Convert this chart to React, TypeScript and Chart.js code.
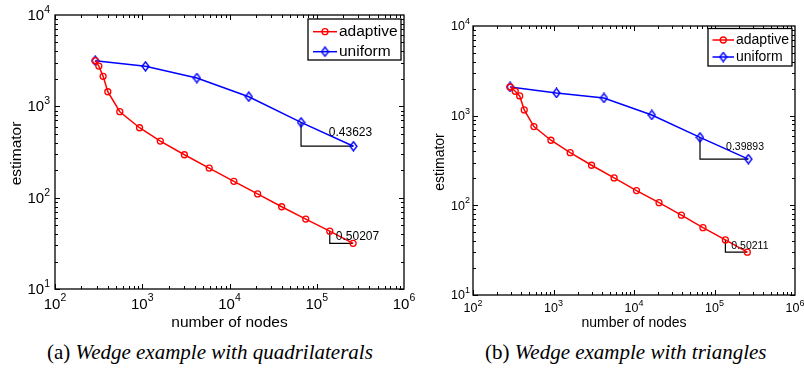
import React, { useEffect, useRef } from "react";
import { Chart, registerables } from "chart.js";
Chart.register(...registerables);

// ---------- data ----------
const uniformNodes = [289, 1089, 4225, 16641, 66049, 263169];

const quadAdaptiveNodes = [289, 318, 356, 403, 553, 931, 1610, 3040, 5850, 11220, 21000, 39600, 74800, 141000, 261000];
const quadAdaptiveEst = [3160, 2762, 2130, 1445, 873, 583, 417, 295, 211, 151, 110, 79.5, 58.3, 43.0, 31.6];
const quadUniformEst = [3160, 2742, 2042, 1274, 668, 366];

const triAdaptiveNodes = [289, 335, 380, 433, 571, 929, 1611, 2970, 5660, 10740, 20470, 38800, 71900, 136500, 255800];
const triAdaptiveEst = [2089, 1871, 1659, 1158, 755, 532, 387, 280, 202, 146, 107, 77.6, 56.4, 41.1, 30.0];
const triUniformEst = [2089, 1791, 1575, 1018, 572, 328];

const xTickExponents = [2, 3, 4, 5, 6];
const yTickExponents = [1, 2, 3, 4];
const seriesLabels = ["adaptive", "uniform"];
const quadSlopeLabels = ["0.43623", "0.50207"];
const triSlopeLabels = ["0.39893", "0.50211"];
const xTitle = "number of nodes";
const yTitle = "estimator";

const SANS = '"Liberation Sans", Arial, Helvetica, sans-serif';

type Panel = {
  canvasLeft: number; width: number; height: number;
  area: { left: number; right: number; top: number; bottom: number };
  adaptiveNodes: number[]; adaptiveEst: number[]; uniformEst: number[];
  slopeLabels: string[];
  mainFont: string; supFont: string; supDy: number;
  titleFont: string; legendFont: string; noteFont: string;
  xTickDy: number; yTickDx: number; xTitleDy: number; yTitleDx: number;
  legend: { dxLeft: number; dxRight: number; dyTop: number; dyBottom: number; row1: number; row2: number; s0: number; s1: number; tx: number };
  notes: { fx: number; fy: number }[];
};

const panels: Panel[] = [
  {
    canvasLeft: 0, width: 415, height: 340,
    area: { left: 55, right: 404, top: 15, bottom: 289 },
    adaptiveNodes: quadAdaptiveNodes, adaptiveEst: quadAdaptiveEst, uniformEst: quadUniformEst,
    slopeLabels: quadSlopeLabels,
    mainFont: `15px ${SANS}`, supFont: `10.5px ${SANS}`, supDy: -6,
    titleFont: `15.5px ${SANS}`, legendFont: `15.5px ${SANS}`, noteFont: `12px ${SANS}`,
    xTickDy: 15.5, yTickDx: 5, xTitleDy: 34, yTitleDx: 38,
    legend: { dxLeft: 96, dxRight: 3, dyTop: 4, dyBottom: 45, row1: 16.7, row2: 36.7, s0: 5, s1: 29, tx: 31 },
    notes: [{ fx: 0.53, fy: 0.45 }, { fx: 0.26, fy: 0.47 }],
  },
  {
    canvasLeft: 415, width: 389, height: 340,
    area: { left: 58, right: 380, top: 26, bottom: 295 },
    adaptiveNodes: triAdaptiveNodes, adaptiveEst: triAdaptiveEst, uniformEst: triUniformEst,
    slopeLabels: triSlopeLabels,
    mainFont: `12.5px ${SANS}`, supFont: `9px ${SANS}`, supDy: -5.5,
    titleFont: `14px ${SANS}`, legendFont: `14px ${SANS}`, noteFont: `10.5px ${SANS}`,
    xTickDy: 14, yTickDx: 3, xTitleDy: 28, yTitleDx: 33,
    legend: { dxLeft: 87, dxRight: 3, dyTop: 2.5, dyBottom: 40, row1: 14, row2: 31, s0: 4.5, s1: 26, tx: 28 },
    notes: [{ fx: 0.54, fy: 0.44 }, { fx: 0.27, fy: 0.48 }],
  },
];

function makeDiamond(color: string) {
  const c = document.createElement("canvas");
  c.width = 9; c.height = 11;
  const g = c.getContext("2d")!;
  g.strokeStyle = color; g.lineWidth = 1.4;
  g.beginPath();
  g.moveTo(4.5, 1); g.lineTo(8, 5.5); g.lineTo(4.5, 10); g.lineTo(1, 5.5);
  g.closePath(); g.stroke();
  return c;
}

function drawPow(ctx: CanvasRenderingContext2D, exp: number, x: number, y: number, align: "center" | "right", p: Panel) {
  ctx.font = p.mainFont; const w1 = ctx.measureText("10").width;
  ctx.font = p.supFont; const w2 = ctx.measureText(String(exp)).width;
  const start = align === "center" ? x - (w1 + w2) / 2 : x - (w1 + w2);
  ctx.textAlign = "left"; ctx.textBaseline = "middle"; ctx.fillStyle = "#000";
  ctx.font = p.mainFont; ctx.fillText("10", start, y);
  ctx.font = p.supFont; ctx.fillText(String(exp), start + w1, y + p.supDy);
}

function buildChart(canvas: HTMLCanvasElement, p: Panel) {
  const diamond = makeDiamond("#0000ff");
  const adaptive = p.adaptiveNodes.map((x, i) => ({ x, y: p.adaptiveEst[i] }));
  const uniform = uniformNodes.map((x, i) => ({ x, y: p.uniformEst[i] }));
  const tri = (pts: { x: number; y: number }[]) => {
    const a = pts[pts.length - 2], b = pts[pts.length - 1];
    return [{ x: a.x, y: a.y }, { x: a.x, y: b.y }, { x: b.x, y: b.y }];
  };
  const noteSeries = [uniform, adaptive];

  const decor = {
    id: "decor",
    afterDraw(chart: any) {
      const ctx: CanvasRenderingContext2D = chart.ctx;
      const xs = chart.scales.x, ys = chart.scales.y;
      const { left, right, top, bottom } = chart.chartArea;
      ctx.save();
      // minor / major ticks on all sides
      ctx.strokeStyle = "#000"; ctx.lineWidth = 1;
      ctx.beginPath();
      for (let e = 2; e < 6; e++) {
        for (let m = 1; m <= 9; m++) {
          const px = Math.round(xs.getPixelForValue(m * Math.pow(10, e))) + 0.5;
          const len = m === 1 ? 5 : 3;
          ctx.moveTo(px, bottom); ctx.lineTo(px, bottom - len);
          ctx.moveTo(px, top); ctx.lineTo(px, top + len);
        }
      }
      for (let e = 1; e < 4; e++) {
        for (let m = 1; m <= 9; m++) {
          const py = Math.round(ys.getPixelForValue(m * Math.pow(10, e))) + 0.5;
          const len = m === 1 ? 5 : 3;
          ctx.moveTo(left, py); ctx.lineTo(left + len, py);
          ctx.moveTo(right, py); ctx.lineTo(right - len, py);
        }
      }
      ctx.stroke();
      // box
      ctx.lineWidth = 1.3;
      ctx.strokeRect(left, top, right - left, bottom - top);
      // tick labels
      xTickExponents.forEach((e) => drawPow(ctx, e, xs.getPixelForValue(Math.pow(10, e)), bottom + p.xTickDy, "center", p));
      yTickExponents.forEach((e) => drawPow(ctx, e, left - p.yTickDx, ys.getPixelForValue(Math.pow(10, e)) + 1, "right", p));
      // titles
      ctx.fillStyle = "#000";
      ctx.font = p.titleFont; ctx.textAlign = "center"; ctx.textBaseline = "middle";
      ctx.fillText(xTitle, (left + right) / 2, bottom + p.xTitleDy);
      ctx.save();
      ctx.translate(left - p.yTitleDx, (top + bottom) / 2 + 1.5);
      ctx.rotate(-Math.PI / 2);
      ctx.fillText(yTitle, 0, 0);
      ctx.restore();
      // slope notes
      ctx.font = p.noteFont; ctx.textAlign = "left"; ctx.textBaseline = "middle";
      noteSeries.forEach((pts, k) => {
        const a = pts[pts.length - 2], b = pts[pts.length - 1];
        const xa = xs.getPixelForValue(a.x), xb = xs.getPixelForValue(b.x);
        const ya = ys.getPixelForValue(a.y), yb = ys.getPixelForValue(b.y);
        const n = p.notes[k];
        ctx.fillText(p.slopeLabels[k], xa + n.fx * (xb - xa), ya + n.fy * (yb - ya));
      });
      // legend
      const L = p.legend;
      const bx0 = right - L.dxLeft, bx1 = right - L.dxRight, by0 = top + L.dyTop, by1 = top + L.dyBottom;
      ctx.fillStyle = "#fff";
      ctx.fillRect(bx0, by0, bx1 - bx0, by1 - by0);
      ctx.strokeStyle = "#000"; ctx.lineWidth = 1.3;
      ctx.strokeRect(bx0, by0, bx1 - bx0, by1 - by0);
      const rows = [top + L.row1, top + L.row2];
      [0, 1].forEach((i) => {
        const ds = chart.data.datasets[i];
        const y = rows[i];
        ctx.strokeStyle = ds.borderColor; ctx.lineWidth = 1.5;
        ctx.beginPath(); ctx.moveTo(bx0 + L.s0, y); ctx.lineTo(bx0 + L.s1, y); ctx.stroke();
        const cx = bx0 + (L.s0 + L.s1) / 2;
        if (i === 0) {
          ctx.lineWidth = 1.3;
          ctx.beginPath(); ctx.arc(cx, y, 3, 0, Math.PI * 2); ctx.stroke();
        } else {
          ctx.drawImage(diamond, cx - diamond.width / 2, y - diamond.height / 2);
        }
        ctx.fillStyle = "#000"; ctx.font = p.legendFont; ctx.textAlign = "left"; ctx.textBaseline = "middle";
        ctx.fillText(ds.label, bx0 + L.tx, y + 0.5);
      });
      ctx.restore();
    },
  };

  const hiddenAxis = (min: number, max: number) => ({
    type: "logarithmic" as const,
    min, max,
    display: true,
    grid: { display: false, drawTicks: false },
    border: { display: false },
    ticks: { display: false },
    title: { display: false },
  });

  return new Chart(canvas, {
    type: "line",
    data: {
      datasets: [
        {
          label: seriesLabels[0], data: adaptive,
          borderColor: "#ff0000", borderWidth: 1.5,
          pointStyle: "circle", pointRadius: 3, pointBorderColor: "#ff0000",
          pointBackgroundColor: "rgba(0,0,0,0)", pointBorderWidth: 1.3, tension: 0,
        },
        {
          label: seriesLabels[1], data: uniform,
          borderColor: "#0000ff", borderWidth: 1.5,
          pointStyle: diamond as any, pointRadius: 4, pointBorderColor: "#0000ff",
          pointBackgroundColor: "rgba(0,0,0,0)", tension: 0,
        },
        { label: "slope-u", data: tri(uniform), borderColor: "#000", borderWidth: 1.2, pointRadius: 0, tension: 0 },
        { label: "slope-a", data: tri(adaptive), borderColor: "#000", borderWidth: 1.2, pointRadius: 0, tension: 0 },
      ],
    },
    options: {
      animation: false,
      responsive: false,
      maintainAspectRatio: false,
      layout: {
        padding: {
          left: p.area.left, right: p.width - p.area.right,
          top: p.area.top, bottom: p.height - p.area.bottom,
        },
      },
      scales: { x: hiddenAxis(100, 1e6), y: hiddenAxis(10, 1e4) },
      plugins: { legend: { display: false }, tooltip: { enabled: false } },
      events: [],
    },
    plugins: [decor],
  });
}

export default function App() {
  const leftRef = useRef<HTMLCanvasElement>(null);
  const rightRef = useRef<HTMLCanvasElement>(null);
  useEffect(() => {
    const c1 = buildChart(leftRef.current!, panels[0]);
    const c2 = buildChart(rightRef.current!, panels[1]);
    return () => { c1.destroy(); c2.destroy(); };
  }, []);
  const capStyle: React.CSSProperties = {
    position: "absolute", top: 340, whiteSpace: "nowrap",
    font: '21px "Liberation Serif", "Times New Roman", serif', lineHeight: "24px", color: "#000",
  };
  return (
    <div style={{ position: "absolute", left: 0, top: 0, width: 804, height: 371, background: "#fff", overflow: "hidden" }}>
      <canvas ref={leftRef} width={panels[0].width} height={panels[0].height}
        style={{ position: "absolute", left: panels[0].canvasLeft, top: 0, width: panels[0].width, height: panels[0].height }} />
      <canvas ref={rightRef} width={panels[1].width} height={panels[1].height}
        style={{ position: "absolute", left: panels[1].canvasLeft, top: 0, width: panels[1].width, height: panels[1].height }} />
      <div style={{ ...capStyle, left: 47 }}>(a) <i>Wedge example with quadrilaterals</i></div>
      <div style={{ ...capStyle, left: 485 }}>(b) <i>Wedge example with triangles</i></div>
    </div>
  );
}
